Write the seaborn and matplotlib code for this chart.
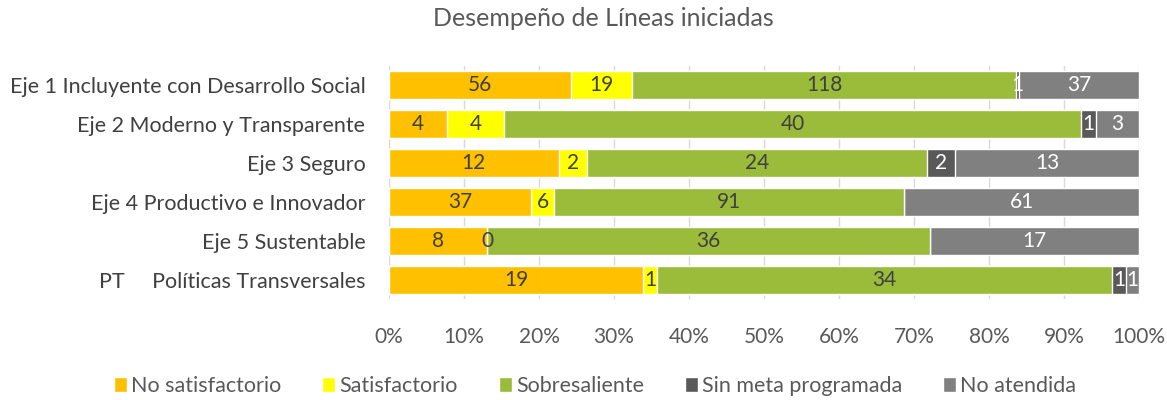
import numpy as np
import pandas as pd
import seaborn as sns
import matplotlib.pyplot as plt
from matplotlib.patches import Patch

categories = ["Eje 1 Incluyente con Desarrollo Social",
              "Eje 2 Moderno y Transparente",
              "Eje 3 Seguro",
              "Eje 4 Productivo e Innovador",
              "Eje 5 Sustentable",
              "PT     Políticas Transversales"]
no_satisfactorio = [56, 4, 12, 37, 8, 19]
satisfactorio = [19, 4, 2, 6, 0, 1]
sobresaliente = [118, 40, 24, 91, 36, 34]
sin_meta = [1, 1, 2, np.nan, np.nan, 1]
no_atendida = [37, 3, 13, 61, 17, 1]

series = ["No satisfactorio", "Satisfactorio", "Sobresaliente",
          "Sin meta programada", "No atendida"]
colors = ["#FFC000", "#FFFF00", "#9BBB3B", "#595959", "#808080"]
text_colors = ["#404040", "#404040", "#404040", "white", "white"]

df = pd.DataFrame({"cat": categories,
                   series[0]: no_satisfactorio,
                   series[1]: satisfactorio,
                   series[2]: sobresaliente,
                   series[3]: sin_meta,
                   series[4]: no_atendida})
vals = df[series].fillna(0)
pct = vals.div(vals.sum(axis=1), axis=0) * 100
cum = pct.cumsum(axis=1)

sns.set_theme(style="white")
plt.rcParams["font.family"] = ["Lato", "DejaVu Sans"]

fig = plt.figure(figsize=(11.67, 4), dpi=100)
ax = fig.add_axes([0.3333, 0.2525, 0.6427, 0.5825])

# stacked look: draw cumulative bars from the widest down
for s, c in reversed(list(zip(series, colors))):
    sns.barplot(x=cum[s], y=df["cat"], color=c, orient="h", width=0.72,
                saturation=1, ax=ax, zorder=3)

for i in range(len(df)):
    for j, s in enumerate(series):
        v = df.loc[i, s]
        if pd.isna(v):
            continue
        center = cum[s].iloc[i] - pct[s].iloc[i] / 2
        ax.text(center, i, f"{int(v)}", ha="center", va="center",
                fontsize=15, color=text_colors[j], zorder=5)

ax.set_xlim(0, 100)
ax.set_ylim(5.5, -0.5)
ax.set_xticks(np.arange(0, 101, 10))
ax.set_xticklabels([f"{t}%" for t in range(0, 101, 10)])
ax.xaxis.grid(True, color="#D9D9D9", lw=1, zorder=0)
ax.set_axisbelow(True)
for sp in ax.spines.values():
    sp.set_visible(False)
ax.set_xlabel("")
ax.set_ylabel("")
ax.tick_params(axis="x", labelsize=15, colors="#595959", pad=20, length=0)
ax.tick_params(axis="y", labelsize=15.5, colors="#404040", pad=17, length=0)

fig.text(0.517, 0.955, "Desempeño de Líneas iniciadas", ha="center", va="center",
         fontsize=18, color="#595959")

handles = [Patch(facecolor=c, label=s) for s, c in zip(series, colors)]
fig.legend(handles=handles, loc="center", bbox_to_anchor=(0.51, 0.035), ncol=5,
           frameon=False, fontsize=15.5, handlelength=0.6, handleheight=0.7,
           handletextpad=0.2, columnspacing=1.9, labelcolor="#595959")

fig.savefig("out.png", dpi=100)
